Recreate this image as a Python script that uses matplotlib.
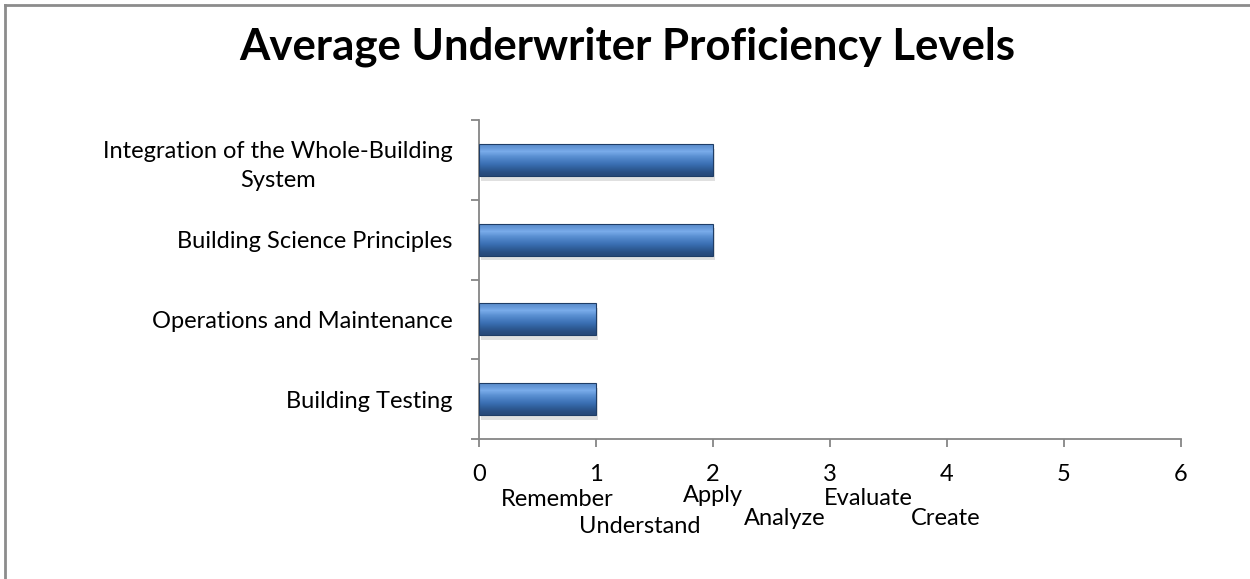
import matplotlib
matplotlib.use("Agg")
import matplotlib.pyplot as plt
import numpy as np
from matplotlib.patches import Rectangle
from matplotlib.lines import Line2D

categories = ["Building Testing", "Operations and Maintenance",
              "Building Science Principles", "Integration of the Whole-Building\nSystem"]
values = [1, 1, 2, 2]
tick_values = [0, 1, 2, 3, 4, 5, 6]
level_names = ["Remember", "Understand", "Apply", "Analyze", "Evaluate", "Create"]

plt.rcParams['font.family'] = ['Lato', 'DejaVu Sans']

fig = plt.figure(figsize=(12.5, 5.79), dpi=100)
ax = fig.add_axes([479 / 1250, 1 - 439 / 579, 702 / 1250, 319 / 579])

# chart border (only top and left visible in reference)
fig.add_artist(Line2D([4.5 / 1250, 4.5 / 1250], [0, 1 - 5 / 579], color="#8c8c8c", lw=2))
fig.add_artist(Line2D([4.5 / 1250, 1], [1 - 5 / 579, 1 - 5 / 579], color="#8c8c8c", lw=2))

ypos = np.arange(len(categories))
bar_h = 0.4
ax.set_xlim(0, 6)
ax.set_ylim(-0.5, len(categories) - 0.5)

# vertical gradient for the bevelled bars
grad = np.array([0.0, 0.15, 0.3, 0.5, 0.7, 0.85, 1.0]).reshape(-1, 1)
cmap = matplotlib.colors.LinearSegmentedColormap.from_list(
    "bev", ["#27497a", "#2f5d98", "#3b70b4", "#4a80c4", "#5b91d3", "#79acea", "#5d8fcf"])

for y, v in zip(ypos, values):
    # shadow
    sh = Rectangle((0.02, y - bar_h / 2 - 0.06), v, bar_h, color="#000000", alpha=0.12, lw=0)
    ax.add_patch(sh)
    r = Rectangle((0, y - bar_h / 2), v, bar_h, facecolor="none", edgecolor="#1f3d66", lw=0.8, zorder=3)
    ax.add_patch(r)
    im = ax.imshow(grad, cmap=cmap, aspect="auto", origin="lower",
                   extent=(0, v, y - bar_h / 2, y + bar_h / 2), zorder=2, interpolation="bicubic")
    im.set_clip_path(r)

ax.set_xlim(0, 6)
ax.set_ylim(-0.5, len(categories) - 0.5)

for s in ["top", "right"]:
    ax.spines[s].set_visible(False)
for s in ["left", "bottom"]:
    ax.spines[s].set_color("#868686")
    ax.spines[s].set_linewidth(1.3)

ax.set_xticks(tick_values)
ax.set_xticklabels([str(t) for t in tick_values], fontsize=17)
ax.tick_params(axis="x", length=6, width=1.3, color="#868686", pad=12)

ax.set_yticks(np.arange(-0.5, len(categories)), minor=False)
ax.set_yticklabels([])
ax.tick_params(axis="y", which="major", length=6, width=1.3, color="#868686")
ax.set_yticks(ypos, minor=True)
ax.set_yticklabels(categories, minor=True, fontsize=17, multialignment="center", linespacing=1.45)
ax.tick_params(axis="y", which="minor", length=0, pad=19)

# Bloom level names under the tick numbers
level_x = [0.667, 1.37, 2.0, 2.615, 3.33, 3.99]
level_drop = [67, 94, 63, 86, 66, 86]
for name, x, d in zip(level_names, level_x, level_drop):
    ax.annotate(name, xy=(x, 0), xycoords=("data", "axes fraction"),
                xytext=(0, -d * 0.72), textcoords="offset points",
                ha="center", va="baseline", fontsize=17, annotation_clip=False)

fig.text(627 / 1250, 1 - 47 / 579, "Average Underwriter Proficiency Levels",
         ha="center", va="center", fontsize=31.5, fontweight="bold")

fig.savefig("out.png", dpi=100)
